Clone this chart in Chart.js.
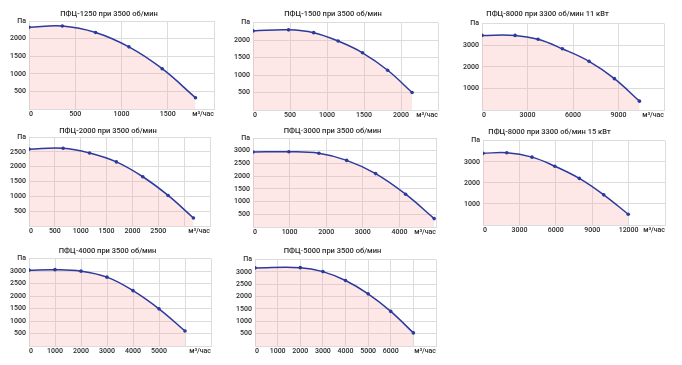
<!DOCTYPE html>
<html><head><meta charset="utf-8">
<script src="https://cdn.jsdelivr.net/npm/chart.js@4.4.0/dist/chart.umd.min.js"></script>
<style>
html,body{margin:0;padding:0;background:#fff;}
#wrap{position:relative;width:682px;height:365px;overflow:hidden;}
#wrap canvas{position:absolute;}
</style></head><body><div id="wrap"></div>
<script>
// ---- data ----
const UNIT_X = 'м³/час';
const UNIT_Y = 'Па';

const titles = [
  'ПФЦ-1250 при 3500 об/мин',
  'ПФЦ-1500 при 3500 об/мин',
  'ПФЦ-8000 при 3300 об/мин 11 кВт',
  'ПФЦ-2000 при 3500 об/мин',
  'ПФЦ-3000 при 3500 об/мин',
  'ПФЦ-8000 при 3300 об/мин 15 кВт',
  'ПФЦ-4000 при 3500 об/мин',
  'ПФЦ-5000 при 3500 об/мин'
];

const flow1250 = [0, 360, 720, 1080, 1440, 1800];
const pres1250 = [2320, 2360, 2175, 1765, 1145, 320];
const flow1500 = [0, 480, 820, 1150, 1480, 1820, 2150];
const pres1500 = [2260, 2290, 2210, 1970, 1635, 1135, 500];
const flow8000a = [0, 2180, 3700, 5300, 7060, 8730, 10380];
const pres8000a = [3450, 3450, 3270, 2830, 2250, 1450, 410];
const flow2000 = [0, 660, 1170, 1690, 2200, 2690, 3180];
const pres2000 = [2590, 2620, 2460, 2160, 1660, 1030, 270];
const flow3000 = [0, 980, 1800, 2560, 3350, 4170, 4950];
const pres3000 = [2950, 2960, 2900, 2620, 2100, 1290, 330];
const flow8000b = [0, 1960, 4040, 5920, 7940, 9950, 11970];
const pres8000b = [3400, 3430, 3220, 2790, 2210, 1430, 510];
const flow4000 = [0, 1000, 2000, 3000, 4000, 5000, 6000];
const pres4000 = [3040, 3060, 3000, 2760, 2220, 1490, 600];
const flow5000 = [0, 2000, 3000, 4000, 5000, 6000, 7000];
const pres5000 = [3160, 3170, 3010, 2650, 2110, 1400, 530];

// tick values and labels
const xTicks1250 = [0, 500, 1000, 1500, 2000];
const xLabels1250 = ['0', '500', '1000', '1500', UNIT_X];
const xTicks1500 = [0, 500, 1000, 1500, 2000, 2500];
const xLabels1500 = ['0', '500', '1000', '1500', '2000', UNIT_X];
const xTicks8000a = [0, 3000, 6000, 9000, 12000];
const xLabels8000a = ['0', '3000', '6000', '9000', UNIT_X];
const xTicks2000 = [0, 500, 1000, 1500, 2000, 2500, 3000, 3500];
const xLabels2000 = ['0', '500', '1000', '1500', '2000', '2500', '', UNIT_X];
const xTicks3000 = [0, 1000, 2000, 3000, 4000, 5000];
const xLabels3000 = ['0', '1000', '2000', '3000', '4000', UNIT_X];
const xTicks8000b = [0, 3000, 6000, 9000, 12000, 15000];
const xLabels8000b = ['0', '3000', '6000', '9000', '12000', UNIT_X];
const xTicks4000 = [0, 1000, 2000, 3000, 4000, 5000, 6000, 7000];
const xLabels4000 = ['0', '1000', '2000', '3000', '4000', '5000', '', UNIT_X];
const xTicks5000 = [0, 1000, 2000, 3000, 4000, 5000, 6000, 7000, 8000];
const xLabels5000 = ['0', '1000', '2000', '3000', '4000', '5000', '6000', '', UNIT_X];

const yTicks2500 = [0, 500, 1000, 1500, 2000, 2500];
const yLabels2500 = ['', '500', '1000', '1500', '2000', UNIT_Y];
const yTicks3000 = [0, 500, 1000, 1500, 2000, 2500, 3000];
const yLabels3000 = ['', '500', '1000', '1500', '2000', '2500', UNIT_Y];
const yTicks3500 = [0, 500, 1000, 1500, 2000, 2500, 3000, 3500];
const yLabels3500 = ['', '500', '1000', '1500', '2000', '2500', '3000', UNIT_Y];
const yTicks4000 = [0, 1000, 2000, 3000, 4000];
const yLabels4000 = ['', '1000', '2000', '3000', UNIT_Y];

// ---- layout (canvas left, top, width, height, y-axis width, title pad top, title pad bottom) ----
const boxes = [
  [0, 0, 218, 121, 29, 10, 2],
  [224, 0, 218, 122, 29, 10, 3.5],
  [427, 0, 241, 122, 55, 10, 4.5],
  [2, 120, 212, 118, 27, 7, 1],
  [225, 120, 215, 119, 28, 7, 2],
  [430, 120, 239, 117, 53, 8, 3.7],
  [0, 240, 215, 118, 29, 7, 2.7],
  [225, 240, 215, 118, 30, 7, 3.5]
];

const LINE = '#2b3a9c';
const FILL = 'rgba(248,160,160,0.25)';
const GRID = '#dcdcdc';
const TXT = '#2a2a2a';
const FONT = 'Roboto';

const wrap = document.getElementById('wrap');

function makeChart(title, flow, pres, xTicks, xLabels, yTicks, yLabels, box) {
  const [L, T, W, H, YW, pt, pb] = box;
  const c = document.createElement('canvas');
  c.width = W; c.height = H;
  c.style.left = L + 'px'; c.style.top = T + 'px';
  c.style.width = W + 'px'; c.style.height = H + 'px';
  wrap.appendChild(c);
  new Chart(c, {
    type: 'line',
    data: {
      datasets: [{
        data: flow.map((x, i) => ({ x: x, y: pres[i] })),
        borderColor: LINE,
        backgroundColor: FILL,
        fill: 'origin',
        tension: 0.4,
        borderWidth: 1.5,
        pointRadius: 1.8,
        pointBackgroundColor: LINE,
        pointBorderWidth: 0
      }]
    },
    options: {
      responsive: false,
      animation: false,
      layout: { padding: 0 },
      plugins: {
        legend: { display: false },
        tooltip: { enabled: false },
        title: {
          display: true, text: title, color: TXT,
          font: { family: FONT, size: 7.5, weight: '500' },
          padding: { top: pt, bottom: pb }
        }
      },
      scales: {
        x: {
          type: 'linear',
          min: xTicks[0], max: xTicks[xTicks.length - 1],
          afterBuildTicks: s => { s.ticks = xTicks.map(v => ({ value: v })); },
          afterFit: s => { s.height = 12; },
          ticks: {
            callback: (v, i) => xLabels[i],
            autoSkip: false, maxRotation: 0, align: 'inner', padding: 1,
            color: TXT, font: { family: FONT, size: 7, weight: '500' }
          },
          grid: { color: GRID, drawTicks: false },
          border: { color: GRID }
        },
        y: {
          min: yTicks[0], max: yTicks[yTicks.length - 1],
          afterBuildTicks: s => { s.ticks = yTicks.map(v => ({ value: v })); },
          afterFit: s => { s.width = YW; },
          ticks: {
            callback: (v, i) => yLabels[i],
            autoSkip: false, padding: 3,
            color: TXT, font: { family: FONT, size: 7, weight: '500' }
          },
          grid: { color: GRID, drawTicks: false },
          border: { color: GRID }
        }
      }
    }
  });
}

makeChart(titles[0], flow1250, pres1250, xTicks1250, xLabels1250, yTicks2500, yLabels2500, boxes[0]);
makeChart(titles[1], flow1500, pres1500, xTicks1500, xLabels1500, yTicks2500, yLabels2500, boxes[1]);
makeChart(titles[2], flow8000a, pres8000a, xTicks8000a, xLabels8000a, yTicks4000, yLabels4000, boxes[2]);
makeChart(titles[3], flow2000, pres2000, xTicks2000, xLabels2000, yTicks3000, yLabels3000, boxes[3]);
makeChart(titles[4], flow3000, pres3000, xTicks3000, xLabels3000, yTicks3500, yLabels3500, boxes[4]);
makeChart(titles[5], flow8000b, pres8000b, xTicks8000b, xLabels8000b, yTicks4000, yLabels4000, boxes[5]);
makeChart(titles[6], flow4000, pres4000, xTicks4000, xLabels4000, yTicks3500, yLabels3500, boxes[6]);
makeChart(titles[7], flow5000, pres5000, xTicks5000, xLabels5000, yTicks3500, yLabels3500, boxes[7]);
</script></body></html>
